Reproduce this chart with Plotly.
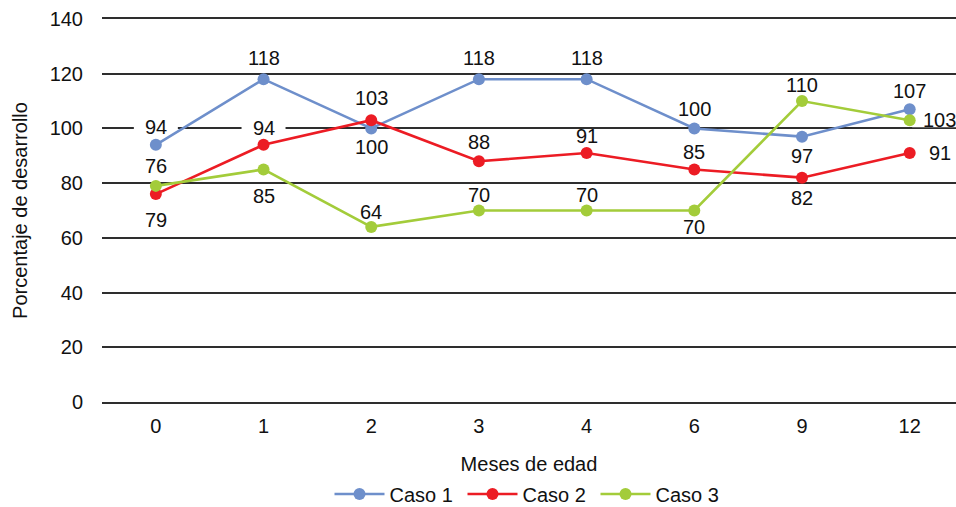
import plotly.graph_objects as go

# Months of age (categorical axis) and development percentages per case
meses = ["0", "1", "2", "3", "4", "6", "9", "12"]
caso1 = [94, 118, 100, 118, 118, 100, 97, 107]
caso2 = [76, 94, 103, 88, 91, 85, 82, 91]
caso3 = [79, 85, 64, 70, 70, 70, 110, 103]

series_names = ["Caso 1", "Caso 2", "Caso 3"]
series_colors = ["#6E8FCB", "#EC1C24", "#A3CC3A"]

# Label placement per point: (x pixel shift, y pixel shift)
label_shifts = [
    [(0, 18), (0, 21), (0, -19), (0, 21), (0, 21), (0, 19), (0, -19), (0, 18)],
    [(0, 28), (0, 17), (0, 22), (0, 19), (0, 17), (0, 17), (0, -20), (30, 0)],
    [(0, -34), (0, -27), (0, 15), (0, 16), (0, 16), (0, -16), (0, 16), (30, 0)],
]

FONT = "Liberation Sans, Arial, sans-serif"
FS = 20
GRID = "#2e2e2e"
Y_MIN, Y_MAX, Y_STEP = 0, 140, 20
PLOT_TOP, PLOT_BOTTOM = 19, 402
px_per_unit = (PLOT_BOTTOM - PLOT_TOP) / (Y_MAX - Y_MIN)

fig = go.Figure()
all_series = [caso1, caso2, caso3]
for name, vals, color in zip(series_names, all_series, series_colors):
    fig.add_trace(go.Scatter(
        x=meses, y=vals, name=name, mode="lines+markers",
        line=dict(color=color, width=2.6),
        marker=dict(color=color, size=12),
    ))

# Data labels; where a label sits on a gridline, a white patch is placed
# between the grid and the traces so the gridline breaks behind the text.
for vals, shifts in zip(all_series, label_shifts):
    for i, (v, (dx, dy)) in enumerate(zip(vals, shifts)):
        label_val = v + dy / px_per_unit
        nearest = round(label_val / Y_STEP) * Y_STEP
        if abs(label_val - nearest) < 3.5:
            half_w = (len(str(v)) * 11 + 22) / 2
            fig.add_shape(
                type="rect", layer="between",
                xref="x", xsizemode="pixel", xanchor=i,
                x0=dx - half_w, x1=dx + half_w,
                yref="y", ysizemode="pixel", yanchor=v,
                y0=dy - 7, y1=dy + 7,
                fillcolor="white", line=dict(width=0),
            )
        fig.add_annotation(
            x=i, y=v, text=str(v), showarrow=False,
            xshift=dx, yshift=dy,
            font=dict(family=FONT, size=FS, color="#111111"),
        )

fig.update_layout(
    width=956, height=507,
    margin=dict(l=102, r=0, t=PLOT_TOP, b=507 - PLOT_BOTTOM),
    paper_bgcolor="white", plot_bgcolor="white",
    font=dict(family=FONT, size=FS, color="#111111"),
    showlegend=True,
    legend=dict(
        orientation="h", x=0.5, xanchor="center",
        yref="container", y=(507 - 494) / 507, yanchor="middle",
        font=dict(family=FONT, size=FS), itemwidth=50,
        entrywidth=68, entrywidthmode="pixels",
    ),
    xaxis=dict(
        type="category", range=[-0.5, 7.43],
        showgrid=False, zeroline=False,
        # bottom (0) and top (140) rules of the grid
        showline=True, mirror=True, linecolor=GRID, linewidth=1.5,
        ticks="outside", ticklen=5, tickcolor="rgba(0,0,0,0)",
        title=dict(text="Meses de edad", standoff=21,
                   font=dict(family=FONT, size=FS)),
        tickfont=dict(family=FONT, size=FS),
    ),
    yaxis=dict(
        range=[Y_MIN, Y_MAX], dtick=Y_STEP, tick0=0,
        showgrid=True, gridcolor=GRID, gridwidth=1.5,
        zeroline=False, showline=False,
        ticks="outside", ticklen=14, tickcolor="rgba(0,0,0,0)",
        title=dict(text="Porcentaje de desarrollo", standoff=16,
                   font=dict(family=FONT, size=FS)),
        tickfont=dict(family=FONT, size=FS),
    ),
)

fig.write_html("out.html")
